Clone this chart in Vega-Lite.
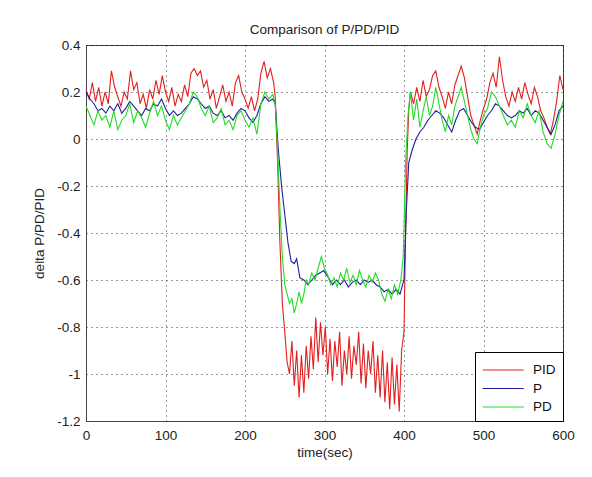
{
"$schema":"https://vega.github.io/schema/vega-lite/v6.json",
"width":477,"height":376,
"autosize":{"type":"none"},
"padding":{"left":86,"top":45,"right":29,"bottom":56},
"background":"white",
"title":{"text":"Comparison of P/PD/PID","fontSize":13.5,"fontWeight":"normal","color":"#222","font":"Liberation Sans","offset":2},
"data":{"values":[
{"s":"PID","t":0,"v":0.21},{"s":"PID","t":4,"v":0.17},{"s":"PID","t":8,"v":0.24},{"s":"PID","t":12,"v":0.16},{"s":"PID","t":16,"v":0.22},{"s":"PID","t":20,"v":0.14},{"s":"PID","t":24,"v":0.2},{"s":"PID","t":28,"v":0.15},{"s":"PID","t":32,"v":0.29},{"s":"PID","t":36,"v":0.22},{"s":"PID","t":40,"v":0.18},{"s":"PID","t":44,"v":0.14},{"s":"PID","t":48,"v":0.2},{"s":"PID","t":52,"v":0.17},{"s":"PID","t":56,"v":0.29},{"s":"PID","t":60,"v":0.21},{"s":"PID","t":64,"v":0.24},{"s":"PID","t":68,"v":0.15},{"s":"PID","t":72,"v":0.19},{"s":"PID","t":76,"v":0.13},{"s":"PID","t":80,"v":0.21},{"s":"PID","t":84,"v":0.17},{"s":"PID","t":88,"v":0.25},{"s":"PID","t":92,"v":0.19},{"s":"PID","t":96,"v":0.27},{"s":"PID","t":100,"v":0.2},{"s":"PID","t":104,"v":0.16},{"s":"PID","t":108,"v":0.22},{"s":"PID","t":112,"v":0.14},{"s":"PID","t":116,"v":0.19},{"s":"PID","t":120,"v":0.16},{"s":"PID","t":124,"v":0.23},{"s":"PID","t":128,"v":0.18},{"s":"PID","t":132,"v":0.28},{"s":"PID","t":136,"v":0.3},{"s":"PID","t":140,"v":0.27},{"s":"PID","t":144,"v":0.29},{"s":"PID","t":148,"v":0.22},{"s":"PID","t":152,"v":0.25},{"s":"PID","t":156,"v":0.17},{"s":"PID","t":160,"v":0.21},{"s":"PID","t":164,"v":0.13},{"s":"PID","t":168,"v":0.18},{"s":"PID","t":172,"v":0.23},{"s":"PID","t":176,"v":0.16},{"s":"PID","t":180,"v":0.2},{"s":"PID","t":184,"v":0.14},{"s":"PID","t":188,"v":0.24},{"s":"PID","t":192,"v":0.27},{"s":"PID","t":196,"v":0.2},{"s":"PID","t":200,"v":0.17},{"s":"PID","t":204,"v":0.13},{"s":"PID","t":208,"v":0.18},{"s":"PID","t":212,"v":0.12},{"s":"PID","t":216,"v":0.17},{"s":"PID","t":220,"v":0.28},{"s":"PID","t":224,"v":0.33},{"s":"PID","t":228,"v":0.26},{"s":"PID","t":232,"v":0.3},{"s":"PID","t":236,"v":0.24},{"s":"PID","t":238,"v":0.18},{"s":"PID","t":241,"v":-0.1},{"s":"PID","t":244,"v":-0.45},{"s":"PID","t":247,"v":-0.7},{"s":"PID","t":250,"v":-0.82},
{"s":"PID","t":253,"v":-0.95},{"s":"PID","t":256,"v":-1.0},{"s":"PID","t":259,"v":-0.86},{"s":"PID","t":262,"v":-1.05},{"s":"PID","t":265,"v":-0.9},{"s":"PID","t":268,"v":-1.1},{"s":"PID","t":271,"v":-0.92},{"s":"PID","t":274,"v":-1.08},{"s":"PID","t":277,"v":-0.88},{"s":"PID","t":280,"v":-1.02},{"s":"PID","t":283,"v":-0.84},{"s":"PID","t":286,"v":-0.98},{"s":"PID","t":289,"v":-0.76},{"s":"PID","t":292,"v":-0.95},{"s":"PID","t":295,"v":-0.78},{"s":"PID","t":298,"v":-0.92},{"s":"PID","t":301,"v":-0.8},{"s":"PID","t":304,"v":-1.0},{"s":"PID","t":307,"v":-0.85},{"s":"PID","t":310,"v":-1.03},{"s":"PID","t":313,"v":-0.86},{"s":"PID","t":316,"v":-0.97},{"s":"PID","t":319,"v":-0.82},{"s":"PID","t":322,"v":-1.05},{"s":"PID","t":325,"v":-0.9},{"s":"PID","t":328,"v":-1.0},{"s":"PID","t":331,"v":-0.84},{"s":"PID","t":334,"v":-1.02},{"s":"PID","t":337,"v":-0.88},{"s":"PID","t":340,"v":-0.96},{"s":"PID","t":343,"v":-0.82},{"s":"PID","t":346,"v":-1.04},{"s":"PID","t":349,"v":-0.87},{"s":"PID","t":352,"v":-1.06},{"s":"PID","t":355,"v":-0.9},{"s":"PID","t":358,"v":-1.0},{"s":"PID","t":361,"v":-0.86},{"s":"PID","t":364,"v":-1.08},{"s":"PID","t":367,"v":-0.92},{"s":"PID","t":370,"v":-1.1},{"s":"PID","t":373,"v":-0.9},{"s":"PID","t":376,"v":-1.12},{"s":"PID","t":379,"v":-0.95},{"s":"PID","t":382,"v":-1.15},{"s":"PID","t":385,"v":-0.93},{"s":"PID","t":388,"v":-1.13},{"s":"PID","t":391,"v":-0.96},{"s":"PID","t":394,"v":-1.16},{"s":"PID","t":397,"v":-0.9},{"s":"PID","t":400,"v":-0.82},{"s":"PID","t":402,"v":-0.4},{"s":"PID","t":404,"v":-0.05},{"s":"PID","t":406,"v":0.12},{"s":"PID","t":408,"v":0.2},
{"s":"PID","t":412,"v":0.15},{"s":"PID","t":416,"v":0.22},{"s":"PID","t":420,"v":0.16},{"s":"PID","t":424,"v":0.25},{"s":"PID","t":428,"v":0.18},{"s":"PID","t":432,"v":0.21},{"s":"PID","t":436,"v":0.27},{"s":"PID","t":440,"v":0.29},{"s":"PID","t":444,"v":0.22},{"s":"PID","t":448,"v":0.18},{"s":"PID","t":452,"v":0.13},{"s":"PID","t":456,"v":0.2},{"s":"PID","t":460,"v":0.15},{"s":"PID","t":464,"v":0.23},{"s":"PID","t":468,"v":0.27},{"s":"PID","t":472,"v":0.31},{"s":"PID","t":476,"v":0.26},{"s":"PID","t":480,"v":0.18},{"s":"PID","t":484,"v":0.1},{"s":"PID","t":488,"v":0.06},{"s":"PID","t":492,"v":0.02},{"s":"PID","t":496,"v":0.08},{"s":"PID","t":500,"v":0.13},{"s":"PID","t":504,"v":0.17},{"s":"PID","t":508,"v":0.24},{"s":"PID","t":512,"v":0.28},{"s":"PID","t":516,"v":0.22},{"s":"PID","t":520,"v":0.35},{"s":"PID","t":524,"v":0.25},{"s":"PID","t":528,"v":0.18},{"s":"PID","t":532,"v":0.14},{"s":"PID","t":536,"v":0.2},{"s":"PID","t":540,"v":0.16},{"s":"PID","t":544,"v":0.22},{"s":"PID","t":548,"v":0.17},{"s":"PID","t":552,"v":0.24},{"s":"PID","t":556,"v":0.19},{"s":"PID","t":560,"v":0.15},{"s":"PID","t":564,"v":0.22},{"s":"PID","t":568,"v":0.18},{"s":"PID","t":572,"v":0.12},{"s":"PID","t":576,"v":0.09},{"s":"PID","t":580,"v":0.05},{"s":"PID","t":584,"v":0.02},{"s":"PID","t":588,"v":0.08},{"s":"PID","t":592,"v":0.16},{"s":"PID","t":596,"v":0.27},{"s":"PID","t":600,"v":0.21},
{"s":"P","t":0,"v":0.2},{"s":"P","t":5,"v":0.17},{"s":"P","t":10,"v":0.15},{"s":"P","t":15,"v":0.12},{"s":"P","t":20,"v":0.13},{"s":"P","t":25,"v":0.11},{"s":"P","t":30,"v":0.14},{"s":"P","t":35,"v":0.12},{"s":"P","t":40,"v":0.15},{"s":"P","t":45,"v":0.11},{"s":"P","t":50,"v":0.13},{"s":"P","t":55,"v":0.16},{"s":"P","t":60,"v":0.14},{"s":"P","t":65,"v":0.12},{"s":"P","t":70,"v":0.1},{"s":"P","t":75,"v":0.13},{"s":"P","t":80,"v":0.12},{"s":"P","t":85,"v":0.15},{"s":"P","t":90,"v":0.14},{"s":"P","t":95,"v":0.17},{"s":"P","t":100,"v":0.13},{"s":"P","t":105,"v":0.1},{"s":"P","t":110,"v":0.12},{"s":"P","t":115,"v":0.1},{"s":"P","t":120,"v":0.11},{"s":"P","t":125,"v":0.13},{"s":"P","t":130,"v":0.15},{"s":"P","t":135,"v":0.18},{"s":"P","t":140,"v":0.17},{"s":"P","t":145,"v":0.15},{"s":"P","t":150,"v":0.13},{"s":"P","t":155,"v":0.14},{"s":"P","t":160,"v":0.11},{"s":"P","t":165,"v":0.1},{"s":"P","t":170,"v":0.12},{"s":"P","t":175,"v":0.09},{"s":"P","t":180,"v":0.1},{"s":"P","t":185,"v":0.08},{"s":"P","t":190,"v":0.11},{"s":"P","t":195,"v":0.13},{"s":"P","t":200,"v":0.12},{"s":"P","t":205,"v":0.09},{"s":"P","t":210,"v":0.07},{"s":"P","t":215,"v":0.1},{"s":"P","t":220,"v":0.15},{"s":"P","t":225,"v":0.18},{"s":"P","t":230,"v":0.16},{"s":"P","t":235,"v":0.17},{"s":"P","t":238,"v":0.15},{"s":"P","t":242,"v":-0.05},{"s":"P","t":246,"v":-0.2},{"s":"P","t":250,"v":-0.32},{"s":"P","t":254,"v":-0.44},{"s":"P","t":258,"v":-0.52},{"s":"P","t":262,"v":-0.53},{"s":"P","t":265,"v":-0.51},{"s":"P","t":269,"v":-0.59},{"s":"P","t":274,"v":-0.6},{"s":"P","t":279,"v":-0.62},{"s":"P","t":284,"v":-0.6},{"s":"P","t":289,"v":-0.58},{"s":"P","t":294,"v":-0.57},{"s":"P","t":299,"v":-0.56},{"s":"P","t":305,"v":-0.59},{"s":"P","t":310,"v":-0.62},{"s":"P","t":315,"v":-0.6},{"s":"P","t":320,"v":-0.62},{"s":"P","t":325,"v":-0.6},{"s":"P","t":330,"v":-0.63},{"s":"P","t":335,"v":-0.61},{"s":"P","t":340,"v":-0.6},{"s":"P","t":345,"v":-0.62},{"s":"P","t":350,"v":-0.6},{"s":"P","t":355,"v":-0.61},{"s":"P","t":360,"v":-0.6},{"s":"P","t":365,"v":-0.62},{"s":"P","t":370,"v":-0.63},{"s":"P","t":375,"v":-0.65},{"s":"P","t":380,"v":-0.64},{"s":"P","t":385,"v":-0.66},{"s":"P","t":390,"v":-0.64},{"s":"P","t":395,"v":-0.66},{"s":"P","t":400,"v":-0.6},{"s":"P","t":403,"v":-0.3},{"s":"P","t":406,"v":-0.1},{"s":"P","t":410,"v":-0.05},{"s":"P","t":415,"v":0.0},{"s":"P","t":420,"v":0.03},{"s":"P","t":425,"v":0.05},{"s":"P","t":430,"v":0.08},{"s":"P","t":435,"v":0.1},{"s":"P","t":440,"v":0.12},{"s":"P","t":445,"v":0.11},{"s":"P","t":450,"v":0.09},{"s":"P","t":455,"v":0.06},{"s":"P","t":460,"v":0.03},{"s":"P","t":465,"v":0.08},{"s":"P","t":470,"v":0.12},{"s":"P","t":475,"v":0.13},{"s":"P","t":480,"v":0.1},{"s":"P","t":485,"v":0.07},{"s":"P","t":490,"v":0.05},{"s":"P","t":495,"v":0.04},{"s":"P","t":500,"v":0.07},{"s":"P","t":505,"v":0.1},{"s":"P","t":510,"v":0.12},{"s":"P","t":515,"v":0.15},{"s":"P","t":520,"v":0.14},{"s":"P","t":525,"v":0.12},{"s":"P","t":530,"v":0.1},{"s":"P","t":535,"v":0.09},{"s":"P","t":540,"v":0.1},{"s":"P","t":545,"v":0.12},{"s":"P","t":550,"v":0.11},{"s":"P","t":555,"v":0.13},{"s":"P","t":560,"v":0.1},{"s":"P","t":565,"v":0.12},{"s":"P","t":570,"v":0.11},{"s":"P","t":575,"v":0.08},{"s":"P","t":580,"v":0.05},{"s":"P","t":585,"v":0.02},{"s":"P","t":590,"v":0.06},{"s":"P","t":595,"v":0.12},{"s":"P","t":600,"v":0.14},
{"s":"PD","t":0,"v":0.14},{"s":"PD","t":5,"v":0.1},{"s":"PD","t":10,"v":0.06},{"s":"PD","t":15,"v":0.12},{"s":"PD","t":20,"v":0.08},{"s":"PD","t":25,"v":0.1},{"s":"PD","t":30,"v":0.05},{"s":"PD","t":35,"v":0.12},{"s":"PD","t":40,"v":0.04},{"s":"PD","t":45,"v":0.08},{"s":"PD","t":50,"v":0.1},{"s":"PD","t":55,"v":0.15},{"s":"PD","t":60,"v":0.07},{"s":"PD","t":65,"v":0.12},{"s":"PD","t":70,"v":0.09},{"s":"PD","t":75,"v":0.05},{"s":"PD","t":80,"v":0.11},{"s":"PD","t":85,"v":0.16},{"s":"PD","t":90,"v":0.1},{"s":"PD","t":95,"v":0.14},{"s":"PD","t":100,"v":0.08},{"s":"PD","t":105,"v":0.04},{"s":"PD","t":110,"v":0.1},{"s":"PD","t":115,"v":0.06},{"s":"PD","t":120,"v":0.09},{"s":"PD","t":125,"v":0.12},{"s":"PD","t":130,"v":0.15},{"s":"PD","t":135,"v":0.2},{"s":"PD","t":140,"v":0.18},{"s":"PD","t":145,"v":0.13},{"s":"PD","t":150,"v":0.1},{"s":"PD","t":155,"v":0.14},{"s":"PD","t":160,"v":0.07},{"s":"PD","t":165,"v":0.09},{"s":"PD","t":170,"v":0.13},{"s":"PD","t":175,"v":0.06},{"s":"PD","t":180,"v":0.08},{"s":"PD","t":185,"v":0.04},{"s":"PD","t":190,"v":0.1},{"s":"PD","t":195,"v":0.12},{"s":"PD","t":200,"v":0.08},{"s":"PD","t":205,"v":0.05},{"s":"PD","t":210,"v":0.09},{"s":"PD","t":215,"v":0.02},{"s":"PD","t":220,"v":0.15},{"s":"PD","t":225,"v":0.2},{"s":"PD","t":230,"v":0.17},{"s":"PD","t":235,"v":0.19},{"s":"PD","t":238,"v":0.15},{"s":"PD","t":241,"v":-0.05},{"s":"PD","t":244,"v":-0.3},{"s":"PD","t":247,"v":-0.5},{"s":"PD","t":250,"v":-0.62},{"s":"PD","t":253,"v":-0.66},{"s":"PD","t":256,"v":-0.7},{"s":"PD","t":259,"v":-0.68},{"s":"PD","t":262,"v":-0.74},{"s":"PD","t":265,"v":-0.7},{"s":"PD","t":268,"v":-0.65},{"s":"PD","t":271,"v":-0.7},{"s":"PD","t":274,"v":-0.66},{"s":"PD","t":277,"v":-0.6},{"s":"PD","t":280,"v":-0.62},{"s":"PD","t":284,"v":-0.57},{"s":"PD","t":288,"v":-0.6},{"s":"PD","t":292,"v":-0.55},{"s":"PD","t":296,"v":-0.5},{"s":"PD","t":300,"v":-0.55},{"s":"PD","t":304,"v":-0.58},{"s":"PD","t":308,"v":-0.62},{"s":"PD","t":312,"v":-0.59},{"s":"PD","t":316,"v":-0.63},{"s":"PD","t":320,"v":-0.57},{"s":"PD","t":324,"v":-0.6},{"s":"PD","t":328,"v":-0.55},{"s":"PD","t":332,"v":-0.61},{"s":"PD","t":336,"v":-0.58},{"s":"PD","t":340,"v":-0.62},{"s":"PD","t":344,"v":-0.56},{"s":"PD","t":348,"v":-0.6},{"s":"PD","t":352,"v":-0.63},{"s":"PD","t":356,"v":-0.58},{"s":"PD","t":360,"v":-0.61},{"s":"PD","t":364,"v":-0.57},{"s":"PD","t":368,"v":-0.6},{"s":"PD","t":372,"v":-0.66},{"s":"PD","t":376,"v":-0.69},{"s":"PD","t":380,"v":-0.64},{"s":"PD","t":384,"v":-0.68},{"s":"PD","t":388,"v":-0.62},{"s":"PD","t":392,"v":-0.66},{"s":"PD","t":396,"v":-0.6},{"s":"PD","t":399,"v":-0.5},{"s":"PD","t":402,"v":-0.1},{"s":"PD","t":405,"v":0.1},{"s":"PD","t":408,"v":0.2},{"s":"PD","t":412,"v":0.08},{"s":"PD","t":416,"v":0.17},{"s":"PD","t":420,"v":0.05},{"s":"PD","t":424,"v":0.12},{"s":"PD","t":428,"v":0.18},{"s":"PD","t":432,"v":0.1},{"s":"PD","t":436,"v":0.14},{"s":"PD","t":440,"v":0.22},{"s":"PD","t":444,"v":0.15},{"s":"PD","t":448,"v":0.08},{"s":"PD","t":452,"v":0.03},{"s":"PD","t":456,"v":0.1},{"s":"PD","t":460,"v":0.06},{"s":"PD","t":464,"v":0.14},{"s":"PD","t":468,"v":0.18},{"s":"PD","t":472,"v":0.22},{"s":"PD","t":476,"v":0.16},{"s":"PD","t":480,"v":0.1},{"s":"PD","t":484,"v":0.04},{"s":"PD","t":488,"v":0.0},{"s":"PD","t":492,"v":-0.02},{"s":"PD","t":496,"v":0.05},{"s":"PD","t":500,"v":0.1},{"s":"PD","t":505,"v":0.13},{"s":"PD","t":510,"v":0.2},{"s":"PD","t":515,"v":0.18},{"s":"PD","t":520,"v":0.14},{"s":"PD","t":525,"v":0.1},{"s":"PD","t":530,"v":0.06},{"s":"PD","t":535,"v":0.08},{"s":"PD","t":540,"v":0.05},{"s":"PD","t":545,"v":0.12},{"s":"PD","t":550,"v":0.09},{"s":"PD","t":555,"v":0.15},{"s":"PD","t":560,"v":0.1},{"s":"PD","t":565,"v":0.07},{"s":"PD","t":570,"v":0.12},{"s":"PD","t":575,"v":0.03},{"s":"PD","t":580,"v":-0.02},{"s":"PD","t":585,"v":-0.04},{"s":"PD","t":590,"v":0.02},{"s":"PD","t":595,"v":0.1},{"s":"PD","t":600,"v":0.16}
]},
"encoding":{
"x":{"field":"t","type":"quantitative","scale":{"domain":[0,600],"nice":false},"axis":{"title":"time(sec)","values":[0,100,200,300,400,500,600],"labelFlush":false,"labelPadding":7,"titlePadding":4}},
"y":{"field":"v","type":"quantitative","scale":{"domain":[-1.2,0.4],"nice":false,"zero":false},"axis":{"title":"delta P/PD/PID","values":[0.4,0.2,0,-0.2,-0.4,-0.6,-0.8,-1,-1.2],"labelExpr":"'' + datum.value","labelPadding":6,"titlePadding":10}},
"color":{"field":"s","type":"nominal","scale":{"domain":["PID","P","PD"],"range":["#e31e1e","#1e1ea0","#22dd22"]},"legend":{"title":null,"orient":"bottom-right","offset":0,"symbolType":"M-1,0H3","symbolSize":420,"symbolStrokeWidth":1,"labelFontSize":13.5,"labelFont":"Liberation Sans","labelColor":"#111","strokeColor":"#000","fillColor":"white","padding":7,"labelOffset":29,"rowPadding":0.5}}
},
"layer":[
{"transform":[{"filter":"datum.s === 'PID'"}],"mark":{"type":"line","strokeWidth":1.1}},
{"transform":[{"filter":"datum.s === 'P'"}],"mark":{"type":"line","strokeWidth":1.1}},
{"transform":[{"filter":"datum.s === 'PD'"}],"mark":{"type":"line","strokeWidth":1.1}}
],
"config":{
"view":{"stroke":"#444","strokeWidth":1},
"axis":{"labelFont":"Liberation Sans","labelFontSize":13.5,"labelColor":"#222","titleFont":"Liberation Sans","titleFontSize":13.5,"titleFontWeight":"normal","titleColor":"#222","ticks":false,"domainColor":"#444","gridColor":"#000","gridDash":[1,4],"gridOpacity":0.8}
}
}
